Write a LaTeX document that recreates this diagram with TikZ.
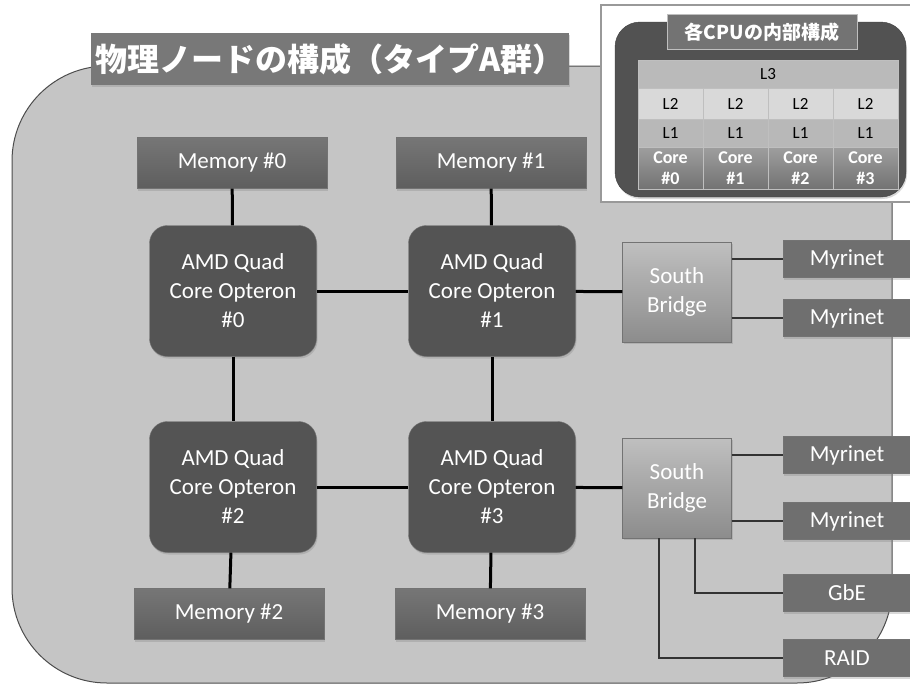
\documentclass[tikz,border=0pt]{standalone}
\usepackage{fontspec}
\setmainfont{Carlito}
\newfontfamily\jpfont{Noto Sans CJK JP}
\usetikzlibrary{positioning, shadows}

\definecolor{panelgray}{HTML}{C5C5C5}
\definecolor{boxgray}{HTML}{5E5E5E}
\definecolor{cpugray}{HTML}{545454}
\definecolor{portgray}{HTML}{6F6F6F}
\definecolor{titlegray}{HTML}{787878}

\begin{document}
\begin{tikzpicture}[
    x=1pt, y=-1pt,
    font=\fontsize{23}{29}\selectfont,
    base/.style={draw=black!55, text=white, align=center, inner sep=2pt,
        drop shadow={shadow xshift=1pt, shadow yshift=-2pt, opacity=.3}},
    memory/.style={base, top color=boxgray!85!white, bottom color=boxgray, minimum width=190pt, minimum height=51pt},
    cpu/.style={base, rounded corners=18pt, fill=cpugray, minimum width=167pt, minimum height=131pt},
    bridge/.style={base, top color=black!25, bottom color=black!45, minimum width=109pt, minimum height=100pt},
    port/.style={base, fill=portgray, minimum width=128pt, minimum height=37pt},
    cache/.style={draw=white!75!black, minimum width=65pt, inner sep=0pt, font=\fontsize{17}{19}\selectfont},
    bus/.style={line width=3pt},
    link/.style={line width=1.5pt, black!80}
]
    \useasboundingbox (0,0) rectangle (910,686);
    \clip (0,0) rectangle (910,686);

    % Board
    \draw[fill=panelgray, draw=black!70, line width=1pt, rounded corners=95pt] (12,66) rectangle (892,683);

    \node[fill=titlegray, text=white, minimum width=478pt, minimum height=52pt, inner sep=0pt,
        font=\jpfont\bfseries\fontsize{32}{36}\selectfont,
        drop shadow={shadow xshift=1pt, shadow yshift=-2pt, opacity=.3}] (title) at (330,59) {物理ノードの構成（タイプA群）};

    % --- CPUs and memory ---
    \node[cpu] (cpu0) at (233,291) {AMD Quad\\Core Opteron\\\#0};
    \node[cpu] (cpu1) at (492,291) {AMD Quad\\Core Opteron\\\#1};
    \node[cpu] (cpu2) at (233,487) {AMD Quad\\Core Opteron\\\#2};
    \node[cpu] (cpu3) at (492,487) {AMD Quad\\Core Opteron\\\#3};

    \node[memory] (mem0) at (232,163) {Memory \#0};
    \node[memory] (mem1) at (491,163) {Memory \#1};
    \node[memory] (mem2) at (229,614) {Memory \#2};
    \node[memory] (mem3) at (490,614) {Memory \#3};

    % --- South bridges and ports ---
    \node[bridge] (sb0) at (677,292) {South\\Bridge};
    \node[bridge] (sb1) at (677,488) {South\\Bridge};

    \node[port] (myr0) at (847,259) {Myrinet};
    \node[port] (myr1) at (847,318) {Myrinet};
    \node[port] (myr2) at (847,455) {Myrinet};
    \node[port] (myr3) at (847,521) {Myrinet};
    \node[port] (gbe) at (847,593) {GbE};
    \node[port] (raid) at (847,658) {RAID};

    % Links
    \draw[bus] (mem0) -- (cpu0);
    \draw[bus] (mem1) -- (cpu1);
    \draw[bus] (cpu2) -- (mem2);
    \draw[bus] (cpu3) -- (mem3);
    \draw[bus] (cpu0) -- (cpu1);
    \draw[bus] (cpu2) -- (cpu3);
    \draw[bus] (cpu0) -- (cpu2);
    \draw[bus] (cpu1) -- (cpu3);
    \draw[bus] (cpu1) -- (sb0);
    \draw[bus] (cpu3) -- (sb1);

    \draw[link] (sb0.east |- myr0.west) -- (myr0.west);
    \draw[link] (sb0.east |- myr1.west) -- (myr1.west);
    \draw[link] (sb1.east |- myr2.west) -- (myr2.west);
    \draw[link] (sb1.east |- myr3.west) -- (myr3.west);
    \draw[link] ([xshift=18pt]sb1.south) |- (gbe.west);
    \draw[link] ([xshift=-18pt]sb1.south) |- (raid.west);

    % --- Inset: inside one CPU ---
    \draw[fill=white, draw=black!40, line width=1.5pt] (601,5) rectangle (916,202);
    \draw[fill=black!68, draw=black!75, rounded corners=25pt,
        drop shadow={shadow xshift=1pt, shadow yshift=-2pt, opacity=.3}] (615,22) rectangle (906,197);
    \node[fill=black!55, draw=black!25, text=white, minimum width=190pt, minimum height=35pt, inner sep=0pt,
        font=\jpfont\bfseries\fontsize{19}{22}\selectfont] (cputitle) at (762,32) {各CPUの内部構成};

    \node[cache, fill=black!27, minimum width=260pt, minimum height=28pt] (l3) at (768,74) {L3};
    \foreach \i in {0,...,3} {
        \node[cache, fill=black!15, minimum height=31pt] (ltwo\i) at (670.5+65*\i,103.5) {L2};
        \node[cache, fill=black!28, minimum height=28pt] (lone\i) at (670.5+65*\i,133) {L1};
        \node[cache, top color=black!38, bottom color=black!55, text=white, minimum height=42pt,
            font=\bfseries\fontsize{18}{21}\selectfont, align=center] (core\i) at (670.5+65*\i,168) {Core\\\#\i};
    }

\end{tikzpicture}
\end{document}
